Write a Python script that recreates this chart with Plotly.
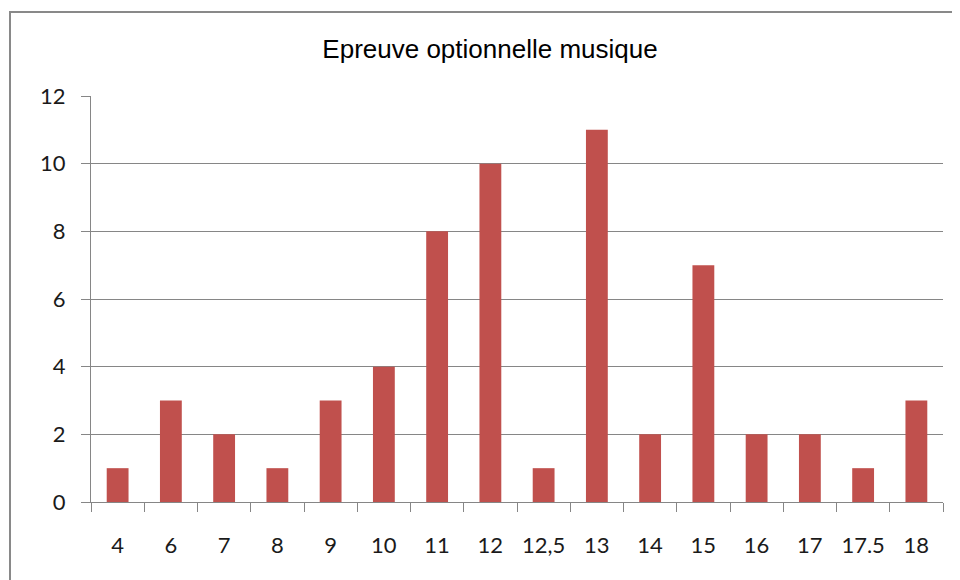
import plotly.graph_objects as go

categories = ["4", "6", "7", "8", "9", "10", "11", "12", "12,5", "13", "14", "15", "16", "17", "17.5", "18"]
values = [1, 3, 2, 1, 3, 4, 8, 10, 1, 11, 2, 7, 2, 2, 1, 3]
y_ticks = [0, 2, 4, 6, 8, 10, 12]
title_text = "Epreuve optionnelle musique"

# page body has an 8px margin, so the figure is drawn 8px in
OFF = 8
W, H = 960 - OFF, 580 - OFF
L, R, T, B = 91 - OFF, W - (943 - OFF), 96 - OFF, H - (502 - OFF)
pw, ph = W - L - R, H - T - B

fig = go.Figure(go.Bar(
    x=categories, y=values,
    marker=dict(color="#C0504D", line=dict(width=0)),
))

fig.update_layout(
    width=W, height=H,
    margin=dict(l=L, r=R, t=T, b=B, autoexpand=False),
    paper_bgcolor="white", plot_bgcolor="white",
    bargap=0.59,
    showlegend=False,
    font=dict(family="Lato, Carlito, 'Open Sans', sans-serif", color="#1a1a1a", size=22),
    title=dict(text=title_text, x=(490 - OFF - L) / pw, xref="paper", xanchor="center",
               y=1 - (49 - OFF) / H, yanchor="middle",
               font=dict(family="'Liberation Sans', Arial, sans-serif", size=26, color="#000")),
    xaxis=dict(
        type="category", showgrid=False,
        showline=True, linecolor="#868686", linewidth=1,
        ticks="outside", ticklen=9, tickcolor="#868686", tickson="boundaries",
        tickfont=dict(size=22), ticklabelstandoff=24,
    ),
    yaxis=dict(
        range=[0, 12], tickvals=y_ticks,
        showgrid=True, gridcolor="#868686", gridwidth=1,
        showline=True, linecolor="#868686", linewidth=1,
        ticks="outside", ticklen=9, tickcolor="#868686",
        tickfont=dict(size=22), zeroline=False, ticklabelstandoff=11,
    ),
    shapes=[dict(
        type="rect", xref="paper", yref="paper",
        x0=(10 - OFF - L) / pw, x1=(980 - L) / pw,
        y0=-(620 - (502 - OFF)) / ph, y1=((502 - OFF) - (12 - OFF)) / ph,
        line=dict(color="#898989", width=2), fillcolor="rgba(0,0,0,0)", layer="below",
    )],
)

fig.write_html("out.html")
